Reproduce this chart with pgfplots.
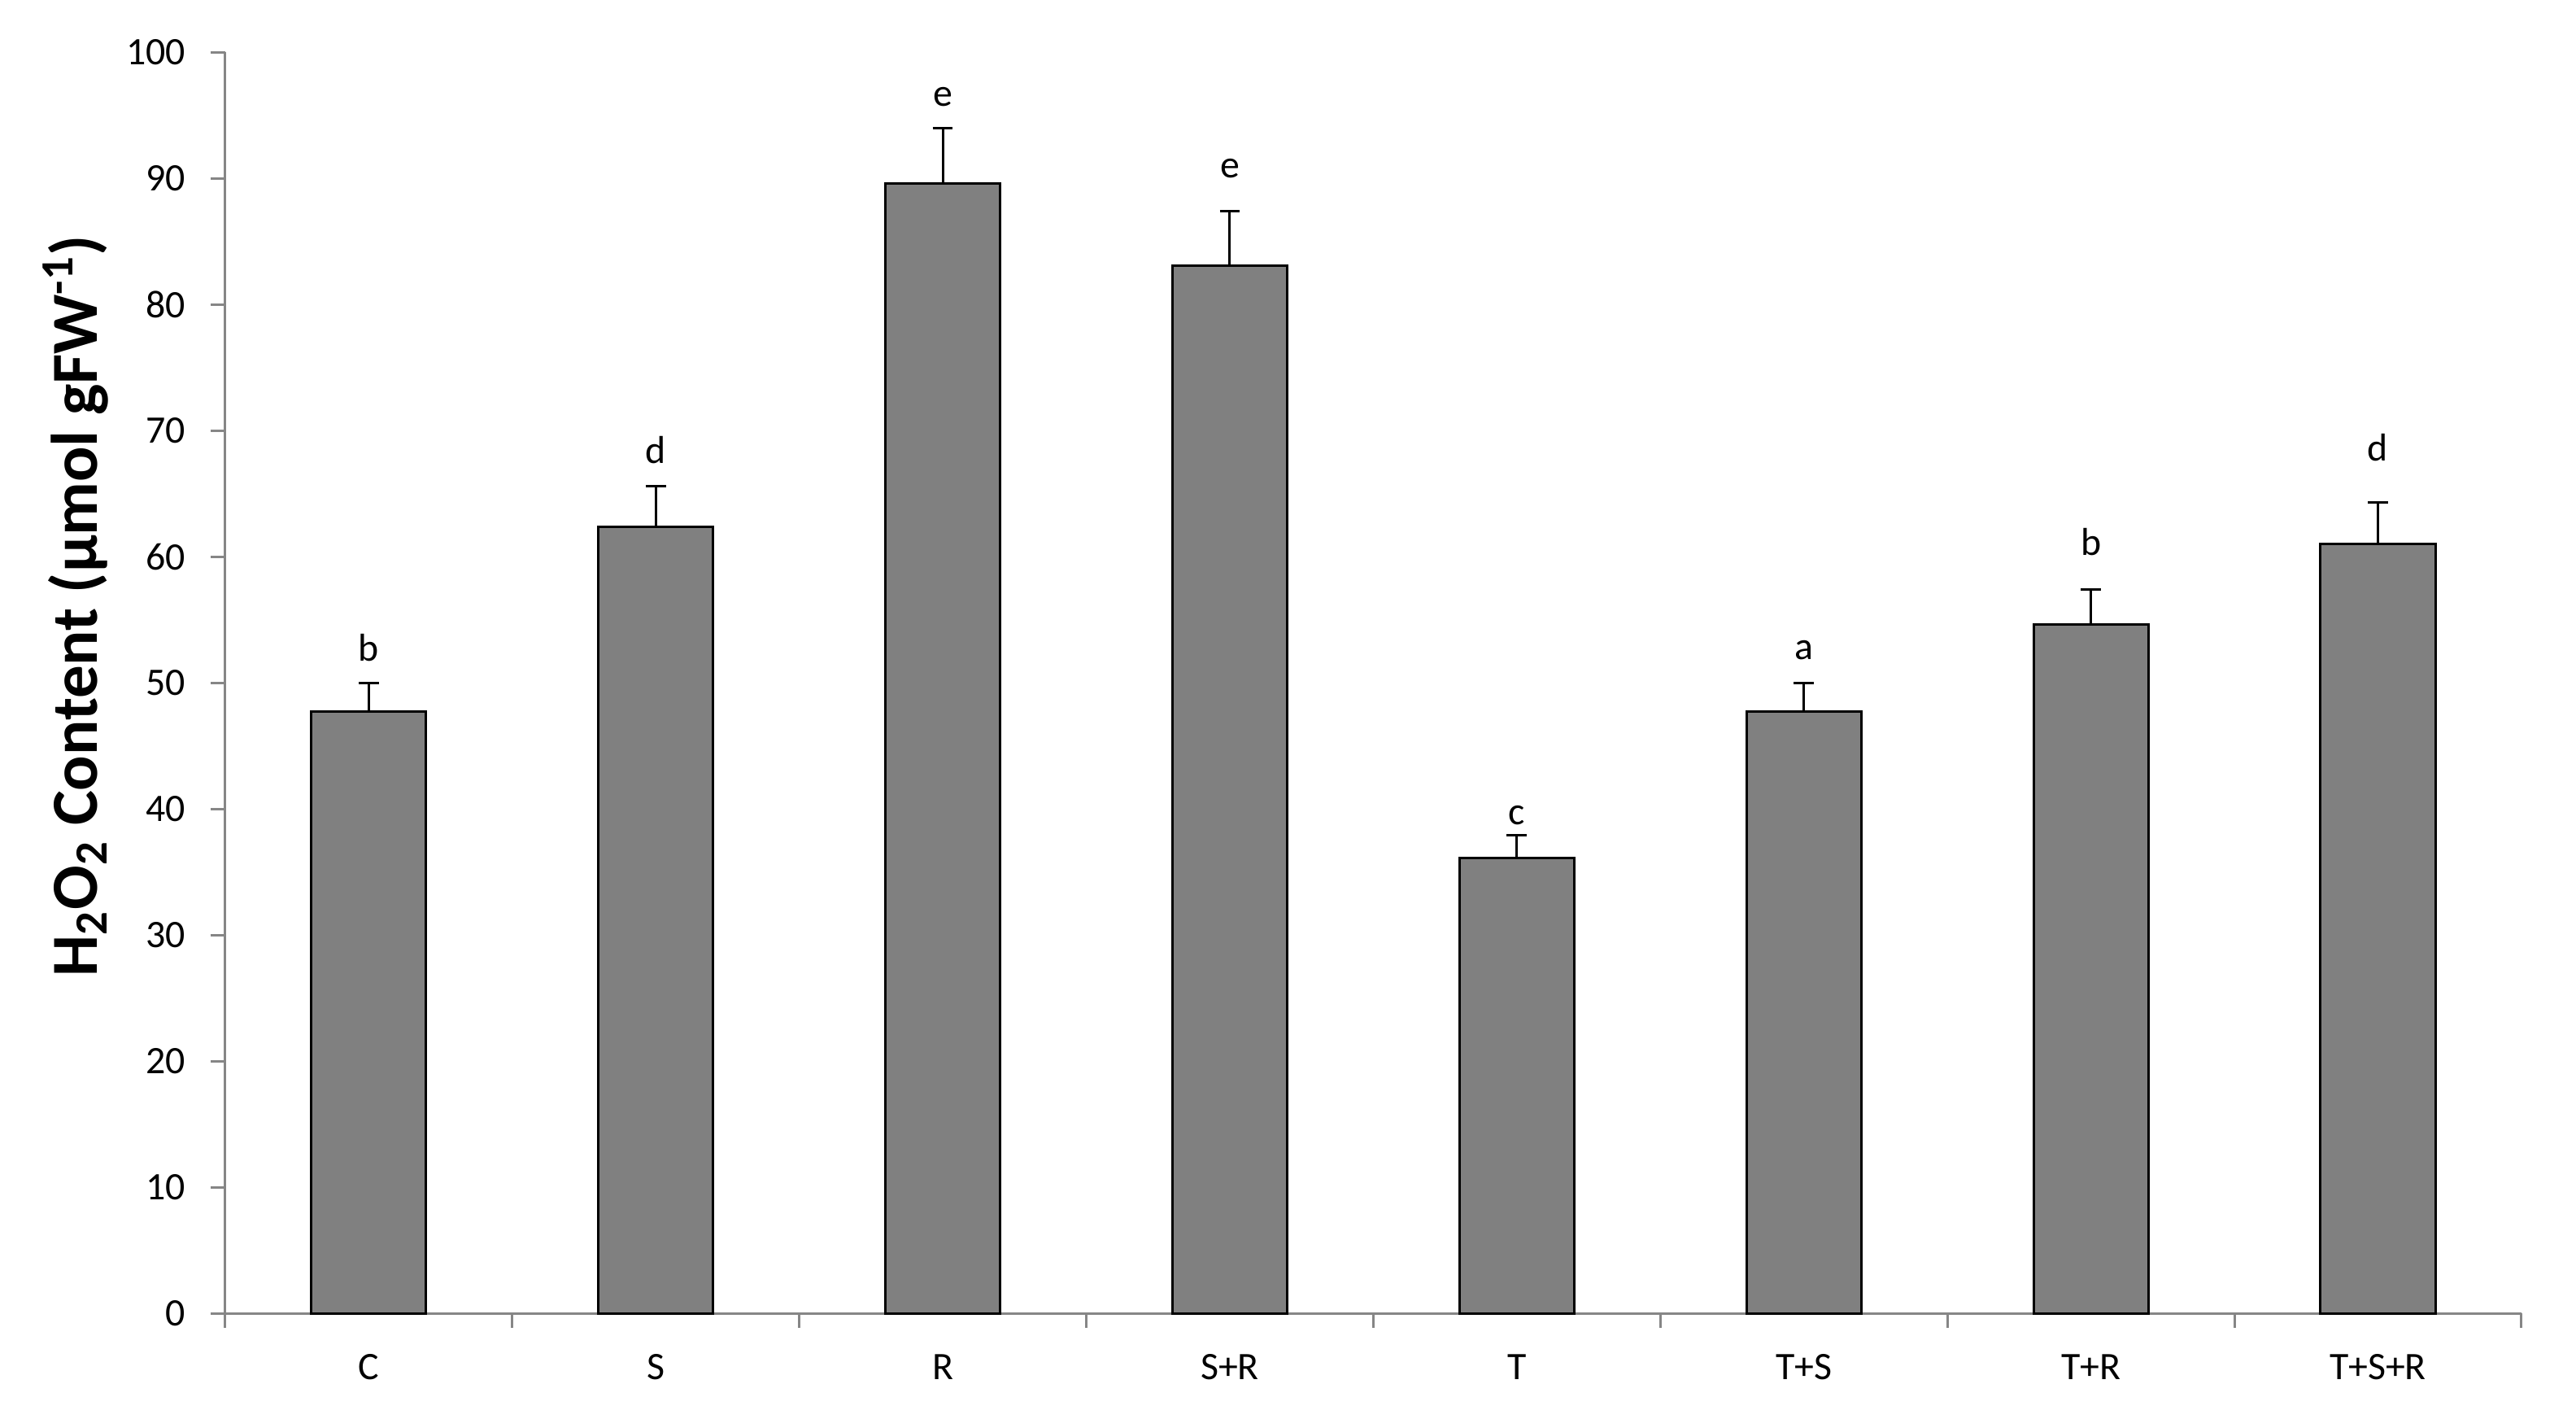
\documentclass[border=0pt]{standalone}
\usepackage{pgfplots}
\pgfplotsset{compat=1.18}
\usepackage{pgfplotstable}
\usepackage{fontspec}
\setmainfont{Carlito}
\definecolor{axisgray}{HTML}{868686}
\definecolor{barfill}{HTML}{808080}
\pgfplotstableread{
x y err ly lab
1 47.7 2.3 50.0 b
2 62.4 3.2 65.7 d
3 89.6 4.4 94.0 e
4 83.1 4.3 88.3 e
5 36.1 1.8 37.0 c
6 47.7 2.3 50.1 a
7 54.6 2.8 58.4 b
8 61.0 3.3 65.9 d
}\data
\begin{document}
\begin{tikzpicture}
\useasboundingbox (0,0) rectangle (791.75bp,436bp);
\begin{axis}[
  at={(69.2bp,32.5bp)}, anchor=south west,
  scale only axis, width=705.8bp, height=387.4bp,
  xmin=0.5, xmax=8.5, ymin=0, ymax=100,
  axis x line*=bottom, axis y line*=left,
  axis line style={draw=axisgray, line width=0.75bp},
  every tick/.style={draw=axisgray, line width=0.75bp},
  tick align=outside,
  major tick length=4.5bp,
  xtick={0.5,1.5,...,8.5}, xticklabels={},
  extra x ticks={1,2,3,4,5,6,7,8},
  extra x tick labels={C,S,R,S+R,T,T+S,T+R,T+S+R},
  extra x tick style={major tick length=0pt, xticklabel style={anchor=base, yshift=-20.25bp}},
  ytick={0,10,...,100},
  yticklabel style={anchor=east, inner sep=0pt, xshift=-7.5bp},
  tick label style={font=\fontsize{12}{14}\selectfont, text=black},
  /pgf/number format/assume math mode=true,
  ylabel={H\textsubscript{2}O\textsubscript{2} Content (µmol gFW\textsuperscript{-1})},
  ylabel style={font=\fontsize{20.3}{24}\selectfont\bfseries, at={(axis description cs:-0.0651,0.561)}, anchor=center},
  clip=false,
]
\addplot[ybar, bar width=0.4, fill=barfill, draw=black, line width=0.75bp,
  error bars/.cd, y dir=plus, y explicit,
  error bar style={black, line width=0.75bp},
  error mark options={rotate=90, mark size=3.1bp, black, line width=0.75bp}]
  table[x=x, y=y, y error=err] {\data};
\addplot[draw=none, mark=none, nodes near coords, point meta=explicit symbolic,
  nodes near coords style={anchor=base, yshift=6.7bp, font=\fontsize{12}{14}\selectfont, text=black}]
  table[x=x, y=ly, meta=lab] {\data};
\end{axis}
\end{tikzpicture}
\end{document}
